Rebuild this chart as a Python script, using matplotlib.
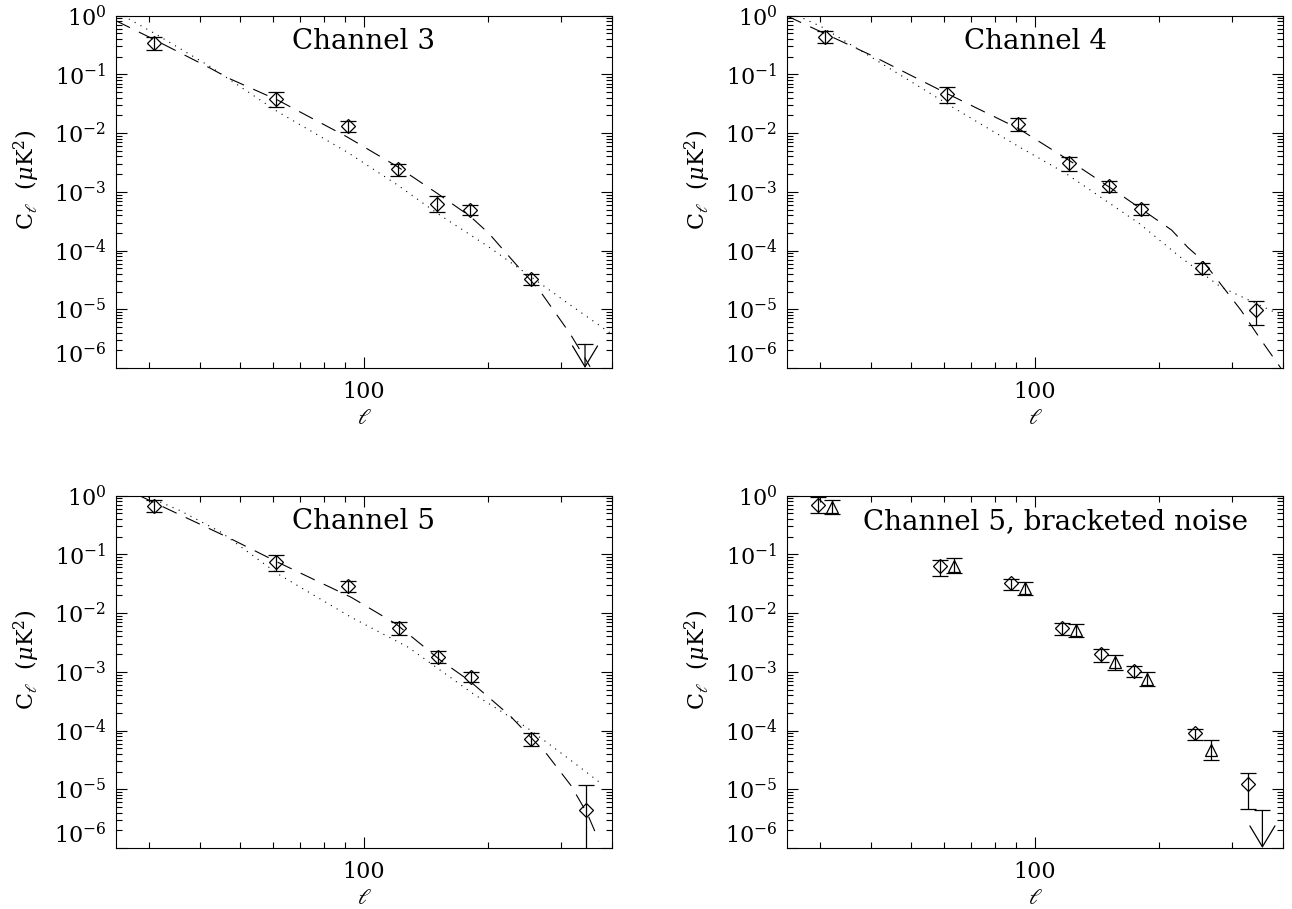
import matplotlib
matplotlib.use('Agg')
import matplotlib.pyplot as plt
import numpy as np

plt.rcParams['font.family'] = ['DejaVu Serif']
plt.rcParams['mathtext.fontset'] = 'dejavuserif'

# channel 3
ell3 = [31.0, 61.3, 91.2, 121.0, 150.5, 181.0, 253.7]
cl3 = [0.339, 0.0377, 0.0132, 0.00244, 6.2e-4, 4.9e-4, 3.27e-5]
cl3_hi = [0.428, 0.0496, 0.0163, 0.00301, 8.5e-4, 5.96e-4, 3.98e-5]
cl3_lo = [0.26, 0.0275, 0.0105, 0.00188, 4.5e-4, 4.03e-4, 2.55e-5]
lim3_ell = [344.0]
lim3_cl = [2.52e-6]
dash3_ell = [25, 31, 42.4, 47, 61.7, 90.8, 120.6, 150.7, 181.5, 201, 233, 254, 270, 316, 354]
dash3_cl = [0.82, 0.39, 0.127, 0.0857, 0.0366, 0.00869, 0.00268, 9.4e-4, 3.77e-4, 1.96e-4,
            6.0e-5, 3.1e-5, 1.86e-5, 3.9e-6, 1.05e-6]
dot3_ell = [26, 31, 42.4, 61.7, 90.8, 120.6, 150.7, 201, 254, 316, 397]
dot3_cl = [1.0, 0.5, 0.135, 0.0232, 0.0048, 0.00131, 4.3e-4, 1.15e-4, 3.6e-5, 1.2e-5, 3.9e-6]

# channel 4
ell4 = [31.0, 61.0, 91.0, 120.7, 151.0, 181.0, 254.5, 344.5]
cl4 = [0.44, 0.0457, 0.0143, 0.00306, 0.00127, 5.09e-4, 4.97e-5, 9.7e-6]
cl4_hi = [0.556, 0.0602, 0.0179, 0.00387, 0.00155, 6.2e-4, 6.04e-5, 1.38e-5]
cl4_lo = [0.347, 0.0321, 0.0110, 0.00229, 9.8e-4, 4.03e-4, 3.98e-5, 5.38e-6]
dash4_ell = [25, 39.9, 61.0, 91.0, 120.7, 159.7, 214.7, 235, 254.5, 316, 354, 395]
dash4_cl = [0.99, 0.214, 0.0476, 0.01206, 0.00348, 9.4e-4, 2.23e-4, 1.13e-4, 6.9e-5, 9.7e-6,
            2.98e-6, 1.0e-6]
dot4_ell = [26.5, 30.3, 39.9, 62.8, 91.4, 118.8, 179, 224.7, 282, 395]
dot4_cl = [1.0, 0.65, 0.2, 0.0282, 0.00587, 0.00206, 2.9e-4, 7.85e-5, 2.42e-5, 7.96e-6]

# channel 5
ell5 = [31.0, 61.1, 91.5, 121.5, 151.2, 181.4, 255.0, 346.0]
cl5 = [0.676, 0.0753, 0.0287, 0.0056, 0.00182, 8.3e-4, 7.2e-5, 4.36e-6]
cl5_hi = [0.844, 0.0978, 0.0358, 0.0070, 0.0023, 1.01e-3, 9.0e-5, 1.16e-5]
cl5_lo = [0.52, 0.053, 0.0226, 0.00431, 0.00142, 6.67e-4, 5.4e-5, 1e-7]
dash5_ell = [28.5, 47.1, 61.8, 93.1, 119.6, 153.6, 180.1, 226, 277.6, 318, 348.5, 371.5]
dash5_cl = [1.0, 0.19, 0.0734, 0.0186, 0.00655, 0.00156, 7.1e-4, 1.8e-4, 4.0e-5, 1.16e-5,
            3.83e-6, 1.35e-6]
dot5_ell = [29.9, 35.8, 45.0, 61.8, 93.1, 128.1, 184.4, 247.8, 318, 373]
dot5_cl = [0.96, 0.556, 0.238, 0.0465, 0.0085, 0.00262, 4.2e-4, 1.14e-4, 3.1e-5, 1.32e-5]

# channel 5, bracketed noise
ell5a = [29.8, 58.7, 87.4, 116.6, 144.9, 173.7, 244.9, 329.6]
cl5a = [0.703, 0.0627, 0.0322, 0.0056, 0.00202, 0.00103, 9.0e-5, 1.21e-5]
cl5a_hi = [0.937, 0.0804, 0.0382, 0.00673, 0.00246, 0.00125, 1.07e-4, 1.91e-5]
cl5a_lo = [0.507, 0.0435, 0.0251, 0.00431, 0.0015, 8.1e-4, 6.95e-5, 4.66e-6]
ell5b = [32.2, 63.5, 94.7, 125.8, 156.1, 187.2, 267.1]
cl5b = [0.633, 0.0636, 0.0268, 0.00518, 0.0015, 7.5e-4, 4.7e-5]
cl5b_hi = [0.844, 0.0859, 0.0344, 0.00655, 0.00197, 9.86e-4, 6.8e-5]
cl5b_lo = [0.488, 0.0483, 0.0207, 0.00399, 0.00109, 5.7e-4, 3.1e-5]
lim5b_ell = [356.5]
lim5b_cl = [4.36e-6]

XMIN, XMAX = 25, 400
YMIN, YMAX = 1e-6, 1.0
W, H = 1292, 909


def setup(ax, title, tx=0.5):
    ax.set_xscale('log')
    ax.set_yscale('log')
    ax.set_xlim(XMIN, XMAX)
    ax.set_ylim(YMIN, YMAX)
    ax.set_xticks([100])
    ax.set_xticklabels(['100'])
    ax.xaxis.set_minor_locator(matplotlib.ticker.FixedLocator([30, 40, 50, 60, 70, 80, 90, 200, 300, 400]))
    ax.xaxis.set_minor_formatter(matplotlib.ticker.NullFormatter())
    ax.set_yticks([10.0 ** k for k in range(-6, 1)])
    ax.set_yticklabels(['$10^{%d}$' % k for k in range(-6, 1)])
    ax.yaxis.set_minor_locator(matplotlib.ticker.LogLocator(base=10, subs=np.arange(2, 10)))
    ax.yaxis.set_minor_formatter(matplotlib.ticker.NullFormatter())
    ax.tick_params(which='both', direction='in', top=True, right=True, width=0.8)
    ax.tick_params(which='major', length=8, labelsize=16)
    ax.tick_params(which='minor', length=4)
    ax.tick_params(axis='x', pad=9)
    ax.tick_params(axis='y', pad=7)
    ax.get_yticklabels()[0].set_va('bottom')
    for s in ax.spines.values():
        s.set_linewidth(0.8)
    ax.set_xlabel(r'$\ell$', fontsize=16, labelpad=3)
    ax.set_ylabel(r'C$_\ell$  ($\mu$K$^2$)', fontsize=16)
    ax.yaxis.set_label_coords(-0.15, 0.534)
    ax.text(tx, 0.926, title, transform=ax.transAxes, ha='center', va='center', fontsize=20)


def points(ax, ell, cl, lo, hi, marker='D', ms=7.2):
    cl = np.array(cl)
    yerr = [cl - np.array(lo), np.array(hi) - cl]
    ax.errorbar(ell, cl, yerr=yerr, fmt='none', ecolor='k', elinewidth=0.9, capsize=5.5, capthick=0.9)
    ax.plot(ell, cl, ls='none', marker=marker, ms=ms, mfc='none', mec='k', mew=0.9)


def upper_limit(ax, ell, cl):
    ax.plot(ell, cl, ls='none', marker='_', ms=11, mew=0.9, color='k')
    for l, c in zip(ell, cl):
        ax.annotate('', xy=(l, YMIN), xytext=(l, c),
                    arrowprops=dict(arrowstyle='->,head_length=1.5,head_width=0.9',
                                    lw=0.9, color='k', shrinkA=0, shrinkB=0, mutation_scale=10))


def models(ax, dash_ell, dash_cl, dot_ell, dot_cl):
    ax.plot(dash_ell, dash_cl, color='k', lw=0.8, dashes=(14, 9))
    ax.plot(dot_ell, dot_cl, color='k', lw=0.8, dashes=(1, 5))


fig = plt.figure(figsize=(W / 100, H / 100), dpi=100)
aw, ah = 496 / W, 352.3 / H
ax1 = fig.add_axes([116 / W, 1 - 368 / H, aw, ah])
ax2 = fig.add_axes([787 / W, 1 - 368 / H, aw, ah])
ax3 = fig.add_axes([116 / W, 1 - 848 / H, aw, ah])
ax4 = fig.add_axes([787 / W, 1 - 848 / H, aw, ah])

setup(ax1, 'Channel 3')
models(ax1, dash3_ell, dash3_cl, dot3_ell, dot3_cl)
points(ax1, ell3, cl3, cl3_lo, cl3_hi)
upper_limit(ax1, lim3_ell, lim3_cl)

setup(ax2, 'Channel 4')
models(ax2, dash4_ell, dash4_cl, dot4_ell, dot4_cl)
points(ax2, ell4, cl4, cl4_lo, cl4_hi)

setup(ax3, 'Channel 5')
models(ax3, dash5_ell, dash5_cl, dot5_ell, dot5_cl)
points(ax3, ell5, cl5, cl5_lo, cl5_hi)

setup(ax4, 'Channel 5, bracketed noise', tx=0.541)
points(ax4, ell5a, cl5a, cl5a_lo, cl5a_hi)
points(ax4, ell5b, cl5b, cl5b_lo, cl5b_hi, marker='^', ms=8.5)
upper_limit(ax4, lim5b_ell, lim5b_cl)

fig.savefig('out.png', dpi=100)
